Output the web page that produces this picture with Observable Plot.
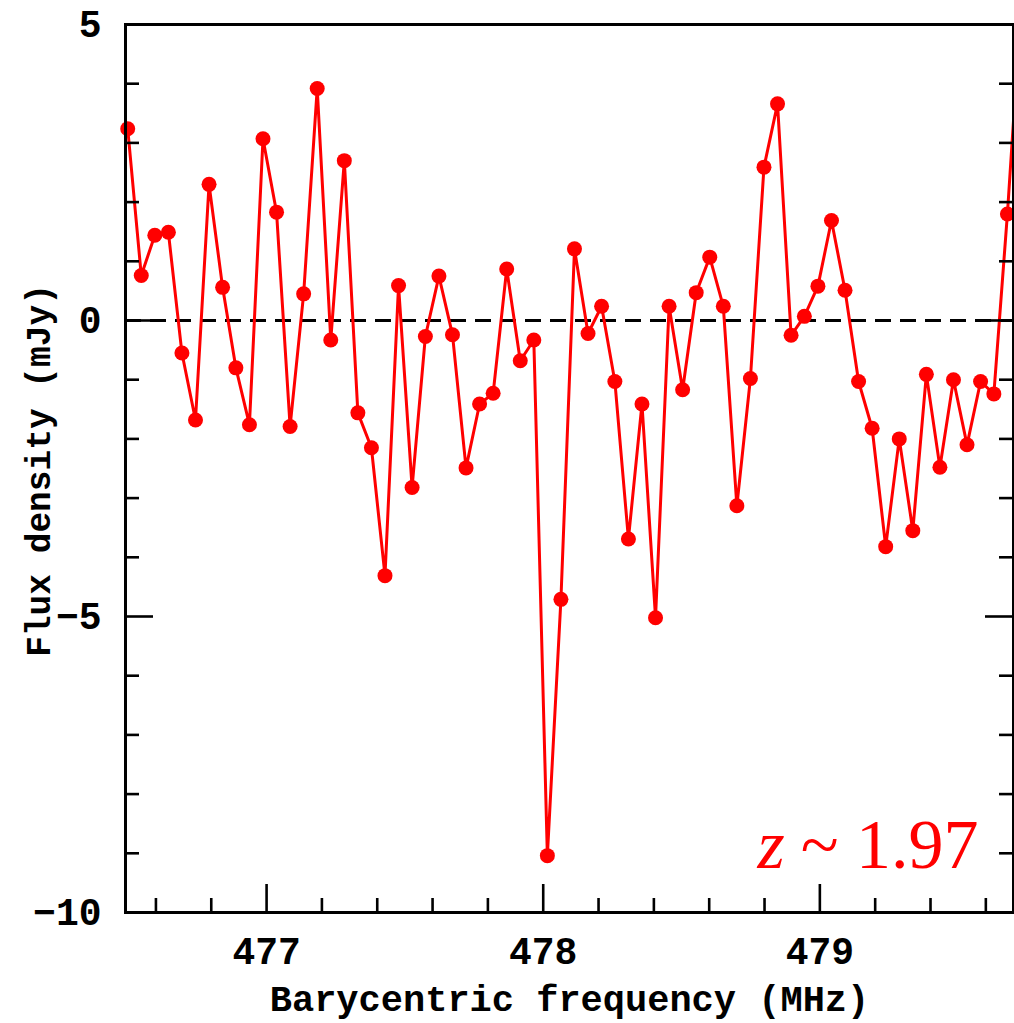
<!DOCTYPE html>
<html>
<head>
<meta charset="utf-8">
<script src="https://cdn.jsdelivr.net/npm/d3@7"></script>
<script src="https://cdn.jsdelivr.net/npm/@observablehq/plot@0.6"></script>
<style>
  html, body { margin: 0; padding: 0; background: #fff; }
  #chart { width: 1014px; height: 1023px; }
</style>
</head>
<body>
<div id="chart"></div>
<script>
// Channel frequencies (MHz) and flux densities (mJy)
const frequencyMHz = [
  476.498, 476.547, 476.596, 476.645, 476.694, 476.743, 476.792, 476.841, 476.889, 476.938,
  476.987, 477.036, 477.085, 477.134, 477.183, 477.232, 477.281, 477.330, 477.379, 477.428,
  477.477, 477.526, 477.574, 477.623, 477.672, 477.721, 477.770, 477.819, 477.868, 477.917,
  477.966, 478.015, 478.064, 478.113, 478.162, 478.211, 478.259, 478.308, 478.357, 478.406,
  478.455, 478.504, 478.553, 478.602, 478.651, 478.700, 478.749, 478.798, 478.847, 478.896,
  478.944, 478.993, 479.042, 479.091, 479.140, 479.189, 479.238, 479.287, 479.336, 479.385,
  479.434, 479.483, 479.532, 479.581, 479.629, 479.678, 479.727
];
const fluxDensity = [
  3.24, 0.76, 1.44, 1.49, -0.55, -1.68, 2.30, 0.56, -0.80, -1.76,
  3.07, 1.83, -1.79, 0.45, 3.92, -0.33, 2.70, -1.56, -2.15, -4.31,
  0.59, -2.82, -0.27, 0.75, -0.24, -2.49, -1.41, -1.23, 0.87, -0.68,
  -0.33, -9.04, -4.71, 1.21, -0.22, 0.24, -1.03, -3.69, -1.41, -5.02,
  0.24, -1.17, 0.47, 1.07, 0.24, -3.13, -0.98, 2.59, 3.66, -0.25,
  0.07, 0.58, 1.69, 0.51, -1.03, -1.82, -3.82, -2.00, -3.55, -0.91,
  -2.48, -1.00, -2.10, -1.03, -1.24, 1.80, 5.30
];

const xMajorTicks = [477, 478, 479];
const xMinorTicks = [476.6, 476.8, 477.2, 477.4, 477.6, 477.8, 478.2, 478.4, 478.6, 478.8, 479.2, 479.4, 479.6];
const yMajorTicks = [5, 0, -5, -10];
const yMinorTicks = [4, 3, 2, 1, -1, -2, -3, -4, -6, -7, -8, -9];

const xLabel = "Barycentric frequency (MHz)";
const yLabel = "Flux density (mJy)";
const annotationVar = "z";
const annotationRest = "~ 1.97";

const xDomain = [476.49, 479.70];
const yDomain = [-10, 5];

const spectrum = frequencyMHz.map((f, i) => ({freq: f, flux: fluxDensity[i]}));

const W = 1014, H = 1023;
const mL = 125, mR = 1, mT = 24, mB = 111;
const innerW = W - mL - mR;
const innerH = H - mT - mB;
const majorLen = 28, minorLen = 14;
const red = "#ff0000";
const axisFont = "'Liberation Mono', 'Courier New', monospace";
const serifFont = "'Liberation Serif', 'Times New Roman', serif";

const chart = Plot.plot({
  width: W,
  height: H,
  marginLeft: mL,
  marginRight: mR,
  marginTop: mT,
  marginBottom: mB,
  style: {fontFamily: axisFont, fontWeight: "bold", fontSize: "38px", color: "#000", background: "#fff", overflow: "visible"},
  x: {domain: xDomain},
  y: {domain: yDomain},
  marks: [
    // zero reference line
    Plot.ruleY([0], {stroke: "#000", strokeWidth: 3, strokeDasharray: "16,9"}),
    // spectrum
    Plot.line(spectrum, {x: "freq", y: "flux", stroke: red, strokeWidth: 3, clip: true}),
    Plot.dot(spectrum, {filter: d => d.freq <= xDomain[1], x: "freq", y: "flux", r: 7.5, fill: red, stroke: "none"}),
    // inward ticks: bottom
    Plot.tickX(xMajorTicks, {x: d => d, insetTop: innerH - majorLen, stroke: "#000", strokeWidth: 2.6}),
    Plot.tickX(xMinorTicks, {x: d => d, insetTop: innerH - minorLen, stroke: "#000", strokeWidth: 2.6}),
    // inward ticks: left
    Plot.tickY(yMajorTicks, {y: d => d, insetRight: innerW - majorLen, stroke: "#000", strokeWidth: 2.6}),
    Plot.tickY(yMinorTicks, {y: d => d, insetRight: innerW - minorLen, stroke: "#000", strokeWidth: 2.6}),
    // inward ticks: right
    Plot.tickY(yMajorTicks, {y: d => d, insetLeft: innerW - majorLen, stroke: "#000", strokeWidth: 2.6}),
    Plot.tickY(yMinorTicks, {y: d => d, insetLeft: innerW - minorLen, stroke: "#000", strokeWidth: 2.6}),
    // tick labels
    Plot.axisX({ticks: xMajorTicks, tickSize: 0, tickPadding: 25, tickFormat: d => String(d), label: null, fontSize: 38}),
    Plot.axisY({ticks: yMajorTicks, tickSize: 0, tickPadding: 24, tickFormat: d => (d < 0 ? "\u2212" + Math.abs(d) : String(d)), label: null, fontSize: 38}),
    // frame
    Plot.frame({stroke: "#000", strokeWidth: 3}),
    // axis titles
    Plot.text([xLabel], {frameAnchor: "bottom", text: d => d, textAnchor: "middle", lineAnchor: "bottom", dy: 98, fontSize: 37, fill: "#000"}),
    Plot.text([yLabel], {frameAnchor: "left", text: d => d, textAnchor: "middle", lineAnchor: "middle", dx: -87, dy: 2, rotate: -90, fontSize: 34.5, fill: "#000"}),
    // redshift annotation
    Plot.text([annotationVar], {frameAnchor: "bottom-right", text: d => d, textAnchor: "start", lineAnchor: "bottom", dx: -256, dy: -45,
      fontFamily: serifFont, fontStyle: "italic", fontWeight: "normal", fontSize: 70, fill: red}),
    Plot.text([annotationRest], {frameAnchor: "bottom-right", text: d => d, textAnchor: "end", lineAnchor: "bottom", dx: -35, dy: -45,
      fontFamily: serifFont, fontWeight: "normal", fontSize: 70, fill: red})
  ]
});

document.getElementById("chart").appendChild(chart);
</script>
</body>
</html>
